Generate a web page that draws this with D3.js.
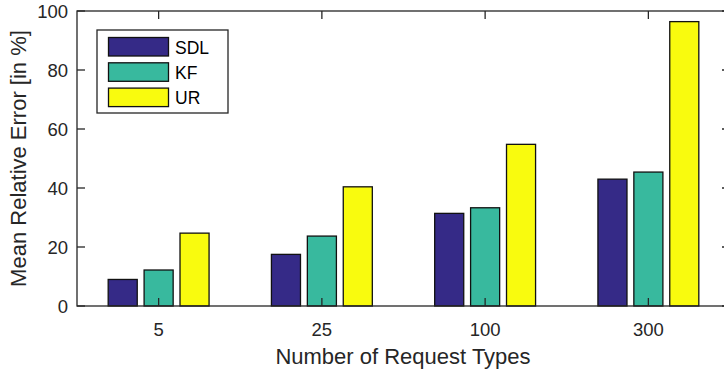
<!DOCTYPE html>
<html>
<head>
<meta charset="utf-8">
<script src="https://d3js.org/d3.v7.min.js"></script>
<style>
  body { margin: 0; background: #fff; }
  text { font-family: "Liberation Sans", Arial, sans-serif; fill: #262626; }
</style>
</head>
<body>
<div id="chart"></div>
<script>
  var categories = ["5", "25", "100", "300"];
  var seriesNames = ["SDL", "KF", "UR"];
  var sdlValues = [9.0, 17.5, 31.4, 43.0];
  var kfValues = [12.2, 23.7, 33.3, 45.4];
  var urValues = [24.7, 40.4, 54.8, 96.4];
  var yTicks = [0, 20, 40, 60, 80, 100];
  var colors = ["#352a87", "#38b99e", "#f9fb0e"];

  var series = [sdlValues, kfValues, urValues];

  var width = 724, height = 375,
    margin = {top: 11, left: 77, bottom: 69, right: -6};

  var svg = d3.select("#chart").append("svg")
    .attr("width", width).attr("height", height);

  // category index scale, like matlab xlim [0.5, 4.5]
  var x = d3.scaleLinear().domain([0.5, 4.5]).range([margin.left, width - margin.right]);
  var y = d3.scaleLinear().domain([0, 100]).range([height - margin.bottom, margin.top]);

  var offset = 0.22, barW = 0.178;

  var g = svg.append("g");

  series.forEach(function (vals, s) {
    g.selectAll(".bar" + s)
      .data(vals)
      .enter()
      .append("rect")
      .attr("x", function (d, i) { return x(i + 1 + (s - 1) * offset - barW / 2); })
      .attr("width", x(barW) - x(0))
      .attr("y", function (d) { return y(d); })
      .attr("height", function (d) { return y(0) - y(d); })
      .attr("fill", colors[s])
      .attr("stroke", "#111")
      .attr("stroke-width", 1.3);
  });

  // box
  var x0 = x(0.5), x1 = x(4.5), y0 = y(0), y1 = y(100);
  svg.append("rect")
    .attr("x", x0).attr("y", y1)
    .attr("width", x1 - x0).attr("height", y0 - y1)
    .attr("fill", "none").attr("stroke", "#262626").attr("stroke-width", 1.3);

  // ticks, inward
  var tickLen = 8;
  yTicks.forEach(function (t) {
    svg.append("line").attr("x1", x0).attr("x2", x0 + tickLen)
      .attr("y1", y(t)).attr("y2", y(t)).attr("stroke", "#262626").attr("stroke-width", 1.3);
    svg.append("line").attr("x1", x1).attr("x2", x1 - tickLen)
      .attr("y1", y(t)).attr("y2", y(t)).attr("stroke", "#262626").attr("stroke-width", 1.3);
    svg.append("text").attr("x", x0 - 9).attr("y", y(t) + 6.5)
      .attr("text-anchor", "end").style("font-size", "18.5px").text(t);
  });
  categories.forEach(function (c, i) {
    svg.append("line").attr("x1", x(i + 1)).attr("x2", x(i + 1))
      .attr("y1", y0).attr("y2", y0 - tickLen).attr("stroke", "#262626").attr("stroke-width", 1.3);
    svg.append("line").attr("x1", x(i + 1)).attr("x2", x(i + 1))
      .attr("y1", y1).attr("y2", y1 + tickLen).attr("stroke", "#262626").attr("stroke-width", 1.3);
    svg.append("text").attr("x", x(i + 1)).attr("y", y0 + 30)
      .attr("text-anchor", "middle").style("font-size", "18.5px").text(c);
  });

  // axis labels
  svg.append("text").attr("x", 403).attr("y", 364)
    .attr("text-anchor", "middle").style("font-size", "22px").text("Number of Request Types");
  svg.append("text")
    .attr("transform", "translate(26," + ((y0 + y1) / 2) + ") rotate(-90)")
    .attr("text-anchor", "middle").style("font-size", "22px").text("Mean Relative Error [in %]");

  // legend
  var legend = svg.append("g");
  legend.append("rect").attr("x", 97).attr("y", 30).attr("width", 131).attr("height", 83)
    .attr("fill", "#fff").attr("stroke", "#262626").attr("stroke-width", 1.3);
  seriesNames.forEach(function (n, i) {
    legend.append("rect").attr("x", 108.5).attr("y", 37.5 + i * 25.3)
      .attr("width", 60).attr("height", 18.5)
      .attr("fill", colors[i]).attr("stroke", "#111").attr("stroke-width", 1.3);
    legend.append("text").attr("x", 175).attr("y", 53.5 + i * 25.3)
      .style("font-size", "17.5px").style("fill", "#000").text(n);
  });
</script>
</body>
</html>
